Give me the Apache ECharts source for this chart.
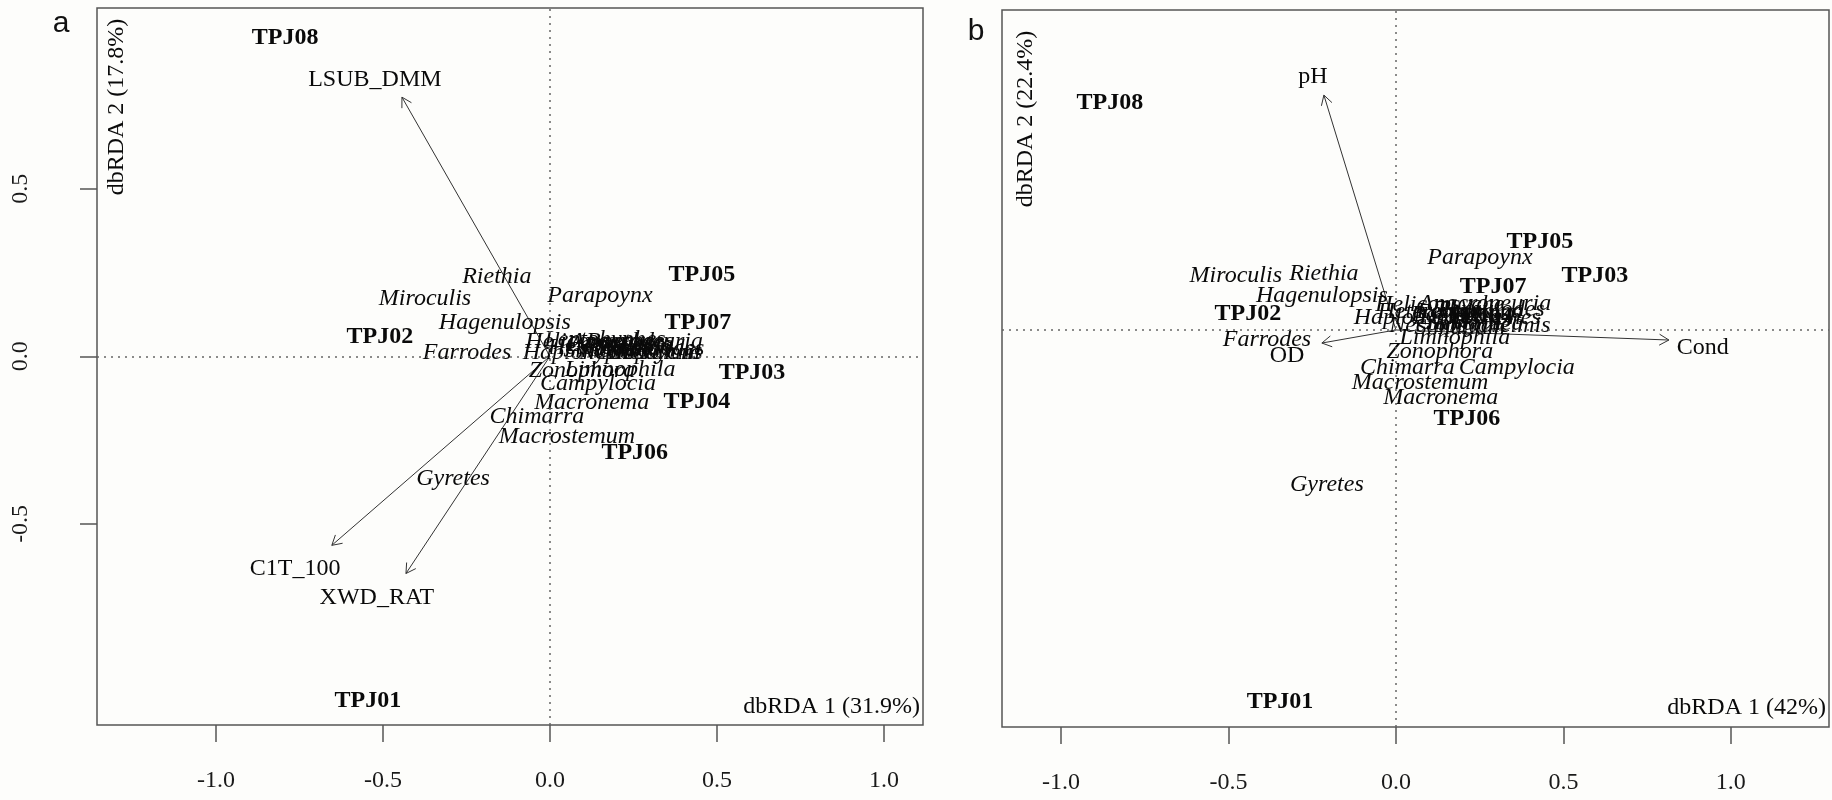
<!DOCTYPE html>
<html><head><meta charset="utf-8">
<script src="https://cdn.jsdelivr.net/npm/echarts@6/dist/echarts.min.js"></script>
<style>html,body{margin:0;padding:0;background:#fdfdfb}#c{width:1832px;height:800px}</style>
</head><body><div id="c"></div>
<script>
// ---------- data ----------
const xTicks = [-1.0, -0.5, 0.0, 0.5, 1.0];
const yTicksA = [-0.5, 0.0, 0.5];

const siteNames = ['TPJ01','TPJ02','TPJ03','TPJ04','TPJ05','TPJ06','TPJ07','TPJ08'];
const siteAX = [-0.545, -0.509, 0.605, 0.440, 0.455, 0.254, 0.443, -0.793];
const siteAY = [-1.027, 0.057, -0.048, -0.137, 0.242, -0.287, 0.101, 0.949];
const siteBX = [-0.346, -0.442, 0.594, 0.250, 0.430, 0.212, 0.290, -0.854];
const siteBY = [-1.110, 0.048, 0.161, 0.040, 0.263, -0.266, 0.128, 0.678];

const speciesNames = ['Riethia','Miroculis','Hagenulopsis','Farrodes','Parapoynx','Zonophora','Limnophila',
  'Campylocia','Macronema','Chimarra','Macrostemum','Gyretes',
  'Haplohyphes','Helicopsyche','Nectopsyche','Leptonema','Smicridea','Baetodes','Thraulodes',
  'Leptohyphes','Simulium','Heterelmis','Anacroneuria','Macrelmis'];
const speciesAX = [-0.159, -0.374, -0.135, -0.248, 0.150, 0.096, 0.210,
  0.144, 0.125, -0.039, 0.051, -0.290,
  0.108, 0.120, 0.269, 0.210, 0.186, 0.240, 0.299,
  0.165, 0.314, 0.150, 0.260, 0.305];
const speciesAY = [0.236, 0.173, 0.101, 0.012, 0.182, -0.042, -0.039,
  -0.081, -0.137, -0.179, -0.239, -0.364,
  0.012, 0.045, 0.012, 0.036, 0.018, 0.045, 0.024,
  0.048, 0.012, 0.027, 0.045, 0.012];
const speciesBX = [-0.215, -0.478, -0.221, -0.385, 0.251, 0.131, 0.176,
  0.361, 0.134, 0.034, 0.072, -0.206,
  0.063, 0.131, 0.161, 0.221, 0.236, 0.176, 0.281,
  0.251, 0.191, 0.101, 0.266, 0.310];
const speciesBY = [0.167, 0.161, 0.101, -0.030, 0.215, -0.066, -0.024,
  -0.113, -0.203, -0.113, -0.158, -0.463,
  0.036, 0.075, 0.012, 0.054, 0.018, 0.045, 0.060,
  0.036, 0.006, 0.054, 0.078, 0.012];

const envANames = ['LSUB_DMM','C1T_100','XWD_RAT'];
const envATipX = [-0.443, -0.653, -0.431];
const envATipY = [0.773, -0.564, -0.648];
const envALabX = [-0.524, -0.763, -0.518];
const envALabY = [0.824, -0.633, -0.719];

const envBNames = ['pH','OD','Cond'];
const envBTipX = [-0.215, -0.221, 0.815];
const envBTipY = [0.701, -0.039, -0.030];
const envBLabX = [-0.248, -0.325, 0.916];
const envBLabY = [0.755, -0.078, -0.054];

const axisTitles = ['dbRDA 2 (17.8%)','dbRDA 1 (31.9%)','dbRDA 2 (22.4%)','dbRDA 1 (42%)'];

// ---------- chart ----------
const FONT = 'Liberation Serif';
const INK = '#0a0a0a';
const BORDER = '#555';

function labelSeries(gi, names, xs, ys, fontStyle, fontWeight, extra) {
  return Object.assign({
    type: 'scatter', xAxisIndex: gi, yAxisIndex: gi, symbolSize: 0, silent: true, z: 4,
    itemStyle: { opacity: 1 },
    data: names.map((n, i) => ({ name: n, value: [xs[i], ys[i]] })),
    label: { show: true, position: 'inside', formatter: '{b}', color: INK, opacity: 1,
      fontFamily: FONT, fontSize: 24, fontStyle: fontStyle, fontWeight: fontWeight },
    labelLayout: { hideOverlap: false }
  }, extra || {});
}

function arrowSeries(gi, tx, ty) {
  return {
    type: 'custom', xAxisIndex: gi, yAxisIndex: gi, silent: true, z: 3,
    data: tx.map((x, i) => [x, ty[i]]),
    renderItem: function (params, api) {
      const o = api.coord([0, 0]);
      const t = api.coord([api.value(0), api.value(1)]);
      const ang = Math.atan2(t[1] - o[1], t[0] - o[0]);
      const L = 11, a = Math.PI / 6;
      const p1 = [t[0] - L * Math.cos(ang - a), t[1] - L * Math.sin(ang - a)];
      const p2 = [t[0] - L * Math.cos(ang + a), t[1] - L * Math.sin(ang + a)];
      return { type: 'group', children: [
        { type: 'line', shape: { x1: o[0], y1: o[1], x2: t[0], y2: t[1] }, style: { stroke: '#333', lineWidth: 1 } },
        { type: 'polyline', shape: { points: [p1, t, p2] }, style: { stroke: '#333', lineWidth: 1, fill: null } }
      ]};
    }
  };
}

const dotted = {
  silent: true, symbol: 'none', label: { show: false }, animation: false,
  lineStyle: { type: [2, 5], color: '#666', width: 1.5, opacity: 1 },
  data: [{ xAxis: 0 }, { yAxis: 0 }]
};

function xAxisDef(gi, min, max) {
  return {
    gridIndex: gi, type: 'value', min: min, max: max,
    splitLine: { show: false }, axisLine: { show: false, onZero: false },
    axisTick: { show: true, length: 17, customValues: xTicks, lineStyle: { color: BORDER, width: 1.5 } },
    axisLabel: { show: true, customValues: xTicks, margin: 44, formatter: v => v.toFixed(1),
      fontFamily: FONT, fontSize: 24, color: '#1a1a1a' }
  };
}

const option = {
  backgroundColor: '#fdfdfb',
  animation: false,
  grid: [
    { left: 97, top: 8, width: 826, height: 717, show: true, borderColor: BORDER, borderWidth: 1.5, backgroundColor: 'transparent' },
    { left: 1002, top: 10, width: 827, height: 717, show: true, borderColor: BORDER, borderWidth: 1.5, backgroundColor: 'transparent' }
  ],
  xAxis: [ xAxisDef(0, -1.356, 1.117), xAxisDef(1, -1.176, 1.293) ],
  yAxis: [
    { gridIndex: 0, type: 'value', min: -1.10, max: 1.039,
      splitLine: { show: false }, axisLine: { show: false, onZero: false },
      axisTick: { show: true, length: 17, customValues: yTicksA, lineStyle: { color: BORDER, width: 1.5 } },
      axisLabel: { show: true, customValues: yTicksA, rotate: 90, margin: 64, formatter: v => v.toFixed(1),
        fontFamily: FONT, fontSize: 24, color: '#1a1a1a' } },
    { gridIndex: 1, type: 'value', min: -1.185, max: 0.955,
      splitLine: { show: false }, axisLine: { show: false, onZero: false },
      axisTick: { show: false }, axisLabel: { show: false } }
  ],
  graphic: [
    { type: 'text', x: 61, y: 24, style: { text: 'a', font: '30px "Liberation Sans"', fill: '#111', textAlign: 'center', textVerticalAlign: 'middle' } },
    { type: 'text', x: 976, y: 32, style: { text: 'b', font: '30px "Liberation Sans"', fill: '#111', textAlign: 'center', textVerticalAlign: 'middle' } },
    { type: 'text', x: 117, y: 107, rotation: Math.PI / 2, style: { text: axisTitles[0], font: '24px "Liberation Serif"', fill: INK, textAlign: 'center', textVerticalAlign: 'middle' } },
    { type: 'text', x: 920, y: 707, style: { text: axisTitles[1], font: '24px "Liberation Serif"', fill: INK, textAlign: 'right', textVerticalAlign: 'middle' } },
    { type: 'text', x: 1026, y: 119, rotation: Math.PI / 2, style: { text: axisTitles[2], font: '24px "Liberation Serif"', fill: INK, textAlign: 'center', textVerticalAlign: 'middle' } },
    { type: 'text', x: 1826, y: 708, style: { text: axisTitles[3], font: '24px "Liberation Serif"', fill: INK, textAlign: 'right', textVerticalAlign: 'middle' } }
  ],
  series: [
    arrowSeries(0, envATipX, envATipY),
    labelSeries(0, siteNames, siteAX, siteAY, 'normal', 'bold', { markLine: dotted }),
    labelSeries(0, speciesNames, speciesAX, speciesAY, 'italic', 'normal'),
    labelSeries(0, envANames, envALabX, envALabY, 'normal', 'normal'),
    arrowSeries(1, envBTipX, envBTipY),
    labelSeries(1, siteNames, siteBX, siteBY, 'normal', 'bold', { markLine: dotted }),
    labelSeries(1, speciesNames, speciesBX, speciesBY, 'italic', 'normal'),
    labelSeries(1, envBNames, envBLabX, envBLabY, 'normal', 'normal')
  ]
};

const chart = echarts.init(document.getElementById('c'), null, { renderer: 'canvas' });
chart.setOption(option);
</script></body></html>
